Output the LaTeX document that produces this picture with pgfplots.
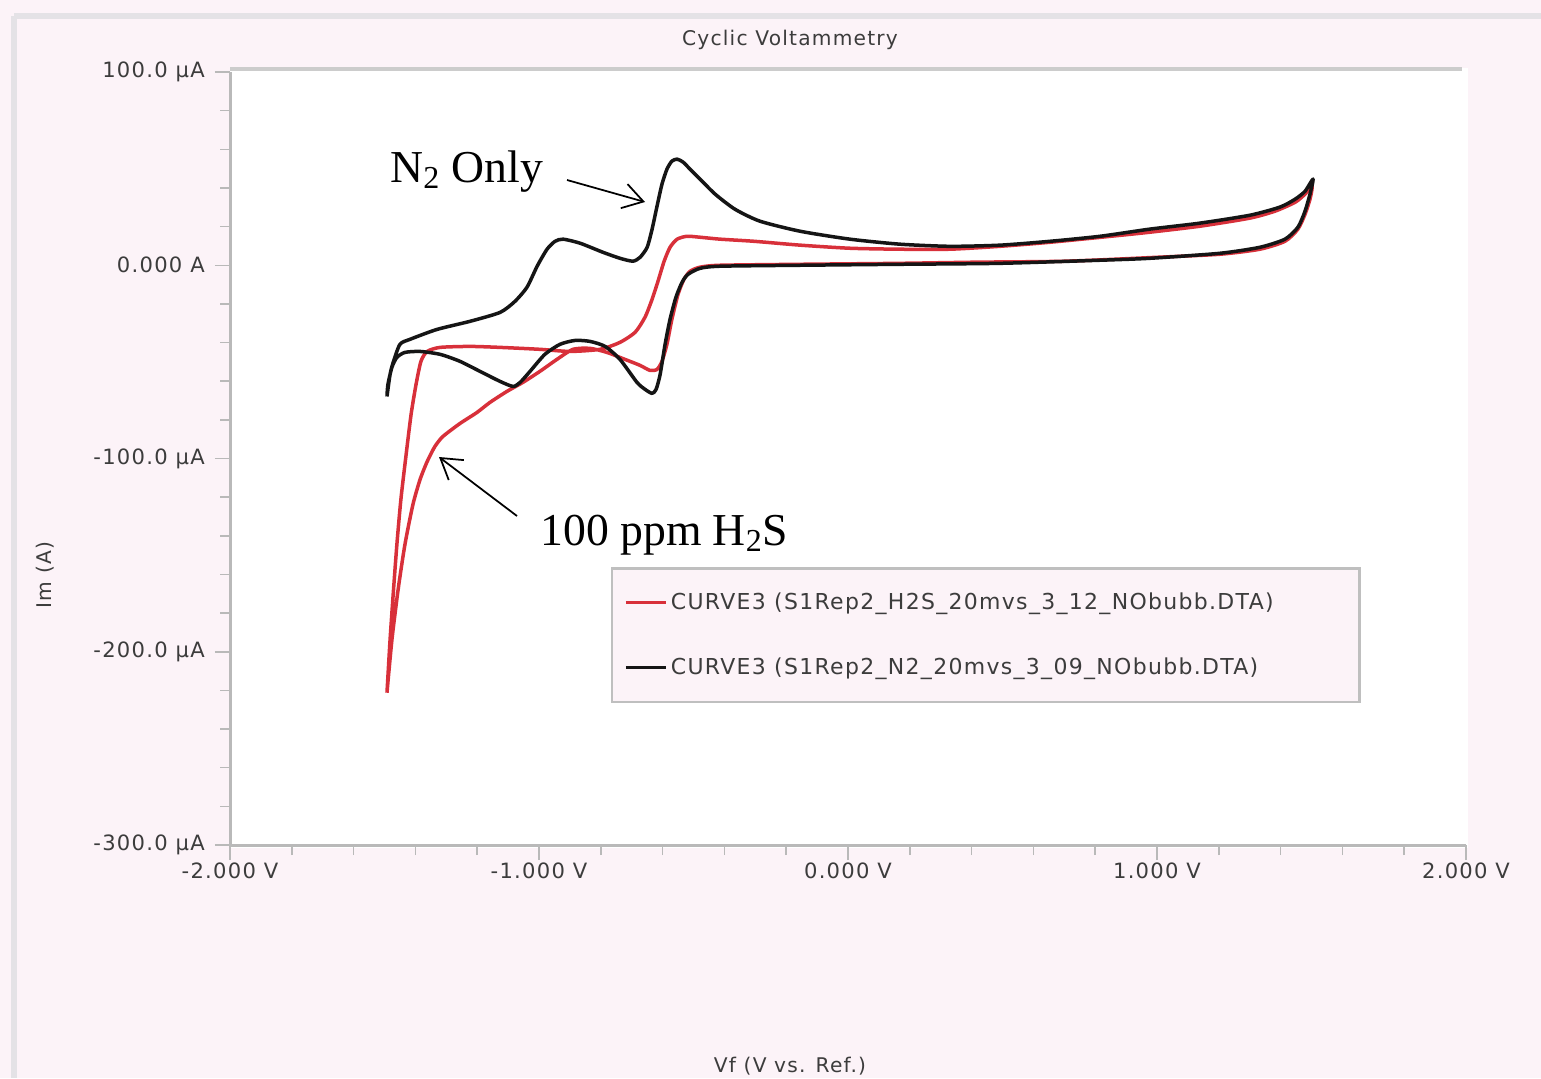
\documentclass[border=0pt]{standalone}
\usepackage{pgfplots}
\pgfplotsset{compat=1.18}
\usepackage{fontspec}
\usetikzlibrary{arrows.meta}
\setmainfont{Liberation Serif}
\newfontfamily\uifont[LetterSpace=6]{DejaVu Sans}
\definecolor{bgpink}{HTML}{FCF3F8}
\definecolor{framegray}{HTML}{E4E2E6}
\definecolor{curvered}{HTML}{D8303A}
\definecolor{curveblack}{HTML}{151515}
\definecolor{txtgray}{HTML}{3C3C3C}

\pgfplotstableread{
V I
-1.492 -221.2
-1.482 -193.8
-1.472 -170.5
-1.460 -144.6
-1.447 -121.2
-1.430 -97.9
-1.414 -77.2
-1.398 -61.7
-1.382 -49.7
-1.362 -44.6
-1.320 -42.5
-1.223 -42.0
-1.126 -42.5
-0.997 -43.5
-0.900 -44.6
-0.803 -43.5
-0.738 -39.9
-0.689 -34.7
-0.657 -26.9
-0.634 -17.6
-0.615 -8.3
-0.595 2.1
-0.576 9.3
-0.553 13.5
-0.521 15.0
-0.479 14.5
-0.414 13.5
-0.304 12.4
-0.155 10.4
0.006 8.8
0.168 8.3
0.330 8.3
0.492 9.8
0.654 11.9
0.851 15.0
0.977 17.1
1.139 20.2
1.301 24.4
1.382 28.0
1.447 32.6
1.479 36.8
1.502 40.9
1.495 34.2
1.479 26.4
1.456 18.7
1.414 12.4
1.333 8.3
1.204 5.7
0.997 4.1
0.706 2.1
0.417 1.6
0.168 1.0
-0.155 0.5
-0.414 0.0
-0.479 -1.0
-0.511 -3.1
-0.531 -7.3
-0.550 -15.0
-0.570 -28.0
-0.586 -40.9
-0.602 -49.7
-0.618 -53.9
-0.641 -54.4
-0.673 -51.8
-0.722 -48.7
-0.780 -45.1
-0.835 -43.0
-0.890 -43.5
-0.942 -48.7
-0.997 -54.9
-1.052 -60.6
-1.104 -65.3
-1.159 -71.0
-1.201 -76.2
-1.256 -81.9
-1.311 -88.6
-1.337 -93.8
-1.362 -101.6
-1.385 -110.9
-1.408 -123.8
-1.434 -144.6
-1.456 -167.9
-1.476 -193.8
-1.492 -221.2
}\redtable

\pgfplotstableread{
V I
-1.492 -67.9
-1.482 -56.5
-1.472 -50.3
-1.450 -40.9
-1.417 -38.3
-1.330 -33.2
-1.223 -29.0
-1.126 -24.4
-1.078 -18.7
-1.039 -11.4
-1.006 -0.5
-0.974 8.3
-0.948 12.4
-0.922 13.5
-0.867 11.4
-0.793 6.7
-0.738 3.6
-0.696 2.1
-0.673 4.1
-0.650 9.3
-0.634 18.7
-0.618 30.6
-0.602 42.0
-0.586 49.7
-0.570 53.9
-0.553 54.9
-0.534 53.4
-0.511 49.7
-0.479 44.6
-0.430 36.8
-0.366 29.0
-0.285 22.8
-0.155 17.6
0.006 13.5
0.168 10.9
0.330 9.8
0.492 10.4
0.654 12.4
0.816 15.0
0.977 18.7
1.139 21.8
1.301 25.9
1.398 30.1
1.447 34.2
1.479 38.3
1.505 44.6
1.495 36.8
1.479 28.0
1.456 19.7
1.414 13.5
1.333 9.3
1.204 6.2
0.977 3.6
0.816 2.6
0.492 1.0
0.168 0.5
-0.155 0.0
-0.414 -0.5
-0.479 -1.6
-0.518 -4.7
-0.537 -8.8
-0.557 -16.6
-0.576 -28.0
-0.592 -40.9
-0.608 -56.5
-0.621 -64.2
-0.634 -66.3
-0.657 -64.2
-0.683 -60.6
-0.738 -48.7
-0.786 -42.0
-0.835 -39.4
-0.883 -38.9
-0.932 -40.9
-0.981 -46.1
-1.029 -54.9
-1.061 -60.6
-1.084 -62.7
-1.126 -60.1
-1.191 -54.9
-1.256 -49.7
-1.320 -46.1
-1.385 -44.6
-1.434 -45.1
-1.460 -47.7
-1.476 -52.8
-1.489 -61.7
-1.492 -67.9
}\blacktable

\begin{document}
\begin{tikzpicture}
\begin{scope}[x=0.2mm, y=-0.2mm]
\useasboundingbox (0,0) rectangle (1541,1078);
\fill[bgpink] (0,0) rectangle (1541,1078);
\draw[framegray, line width=1.2mm] (14,16) -- (1541,16);
\draw[framegray, line width=1.2mm] (14,16) -- (14,1078);
\fill[white] (230,68) rectangle (1468,848);
\draw[gray!40, line width=0.8mm] (230,69) -- (1462,69);
\node[font=\uifont\fontsize{11.5}{13}\selectfont, text=txtgray] at (790,40) {Cyclic Voltammetry};
\node[rotate=90, font=\uifont\fontsize{11.5}{13}\selectfont, text=txtgray] at (45,575) {Im (A)};
\node[anchor=south, font=\uifont\fontsize{11.5}{13}\selectfont, text=txtgray, inner sep=1pt] at (790,1077) {Vf (V vs. Ref.)};
\coordinate (axisSW) at (230,845);
\end{scope}
\begin{axis}[
  at={(axisSW)}, anchor=south west,
  scale only axis, width=247.2mm, height=154.6mm,
  xmin=-2, xmax=2, ymin=-300, ymax=100,
  axis lines*=left,
  axis line style={draw=gray!55, line width=0.6mm, -},
  xtick={-2,-1,0,1,2},
  xticklabels={-2.000 V,-1.000 V,0.000 V,1.000 V,2.000 V},
  ytick={-300,-200,-100,0,100},
  yticklabels={-300.0 µA,-200.0 µA,-100.0 µA,0.000 A,100.0 µA},
  minor x tick num=4, minor y tick num=4,
  tick align=outside, major tick length=3mm, minor tick length=2mm,
  every tick/.style={gray!55, line width=0.3mm},
  ticklabel style={font=\uifont\fontsize{12}{13}\selectfont, text=txtgray},
  yticklabel style={xshift=-0.8mm},
  xticklabel style={yshift=0.6mm},
  legend style={at={(0.308,0.3596)}, anchor=north west, draw=gray!50, line width=0.5mm,
    fill=bgpink, inner xsep=2.5mm, inner ysep=4.3mm, row sep=7.6mm,
    font=\uifont\fontsize{12.5}{13}\selectfont, text=txtgray, cells={anchor=west}},
  legend image code/.code={\draw[#1, line width=0.6mm] (0mm,0mm) -- (8mm,0mm);},
]
\addplot[curvered, line width=0.7mm, smooth, tension=0.4, line join=round] table[x=V, y=I] {\redtable};
\addlegendentry{CURVE3 (S1Rep2\_H2S\_20mvs\_3\_12\_NObubb.DTA)\rule{14mm}{0pt}}
\addplot[curveblack, line width=0.7mm, smooth, tension=0.4, line join=round] table[x=V, y=I] {\blacktable};
\addlegendentry{CURVE3 (S1Rep2\_N2\_20mvs\_3\_09\_NObubb.DTA)}
\end{axis}
\begin{scope}[x=0.2mm, y=-0.2mm]
\node[anchor=base west, font=\fontsize{26}{30}\selectfont, inner sep=0pt] at (390,182) {N\textsubscript{2} Only};
\node[anchor=base west, font=\fontsize{26}{30}\selectfont, inner sep=0pt] at (540,545) {100 ppm H\textsubscript{2}S};
\draw[line width=0.35mm, -{Straight Barb[length=4mm, width=5mm]}] (567,180) -- (645,202);
\draw[line width=0.35mm, -{Straight Barb[length=4mm, width=5mm]}] (517,516) -- (439,457);
\end{scope}
\end{tikzpicture}
\end{document}
